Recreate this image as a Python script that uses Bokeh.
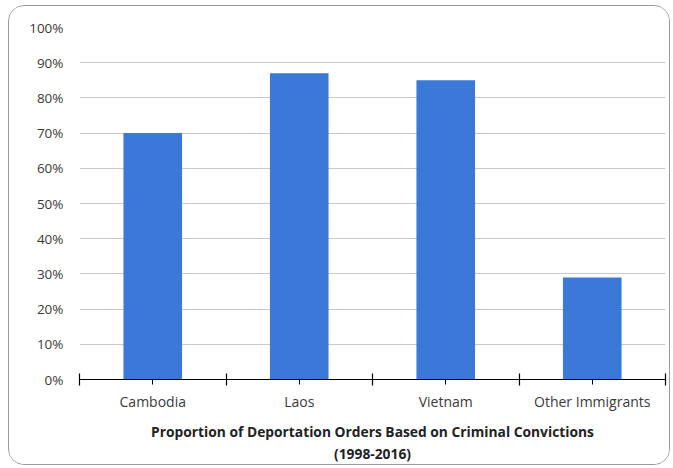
from bokeh.plotting import figure
from bokeh.models import Range1d, FixedTicker, NumeralTickFormatter, ColumnDataSource
from bokeh.embed import file_html
from bokeh.resources import INLINE

categories = ["Cambodia", "Laos", "Vietnam", "Other Immigrants"]
proportions = [0.70, 0.87, 0.85, 0.29]
y_ticks = [0.0, 0.1, 0.2, 0.3, 0.4, 0.5, 0.6, 0.7, 0.8, 0.9, 1.0]
title_line1 = "Proportion of Deportation Orders Based on Criminal Convictions"
title_line2 = "(1998-2016)"

n = len(categories)
centers = [i + 0.5 for i in range(n)]
bounds = list(range(n + 1))

src = ColumnDataSource(data=dict(x=centers, top=proportions, cat=categories))

FONT = "Open Sans"
TXT = "#3a3a3a"

p = figure(width=662, height=460, output_backend="svg", toolbar_location=None,
           x_range=Range1d(0, n), y_range=Range1d(0, 1.0),
           min_border_left=70, min_border_right=6, min_border_top=21, min_border_bottom=17)
p.margin = (5, 0, 0, 8)
p.outline_line_color = None
p.background_fill_color = "white"
p.border_fill_color = "white"

p.vbar(x="x", top="top", bottom=0, width=0.4, source=src,
       fill_color="#3b78d7", line_color=None)

# y axis
p.yaxis.ticker = FixedTicker(ticks=y_ticks)
p.yaxis.formatter = NumeralTickFormatter(format="0%")
p.yaxis.axis_line_color = None
p.yaxis.major_tick_line_color = None
p.yaxis.major_tick_out = 0
p.yaxis.major_tick_in = 0
p.yaxis.minor_tick_line_color = None
p.yaxis.major_label_standoff = 16
p.yaxis.major_label_text_font = FONT
p.yaxis.major_label_text_font_size = "13.5px"
p.yaxis.major_label_text_color = TXT

p.ygrid.ticker = FixedTicker(ticks=y_ticks[1:])
p.ygrid.grid_line_color = "#c8c8c8"
p.ygrid.grid_line_width = 1.2
p.xgrid.grid_line_color = None

# x axis
p.xaxis.ticker = FixedTicker(ticks=centers, minor_ticks=bounds)
p.xaxis.major_label_overrides = {c: cat for c, cat in zip(centers, categories)}
p.xaxis.axis_line_color = "black"
p.xaxis.axis_line_width = 1.2
p.xaxis.major_tick_line_color = "black"
p.xaxis.major_tick_in = 0
p.xaxis.major_tick_out = 5
p.xaxis.minor_tick_line_color = "black"
p.xaxis.minor_tick_in = 6
p.xaxis.minor_tick_out = 6
p.xaxis.minor_tick_line_width = 1.2
p.xaxis.major_label_standoff = 6
p.xaxis.major_label_text_font = FONT
p.xaxis.major_label_text_font_size = "14px"
p.xaxis.major_label_text_color = TXT

p.xaxis.axis_label = title_line1 + "\n" + title_line2
p.xaxis.axis_label_text_font = FONT
p.xaxis.axis_label_text_font_size = "13.8px"
p.xaxis.axis_label_text_font_style = "bold"
p.xaxis.axis_label_text_color = "#222222"
p.xaxis.axis_label_text_align = "center"
p.xaxis.axis_label_text_line_height = 1.2
p.xaxis.axis_label_standoff = 8

p.styles = {"border": "1.5px solid #9a9a9a", "border-radius": "16px", "overflow": "hidden"}

open("out.html", "w").write(file_html(p, INLINE))
